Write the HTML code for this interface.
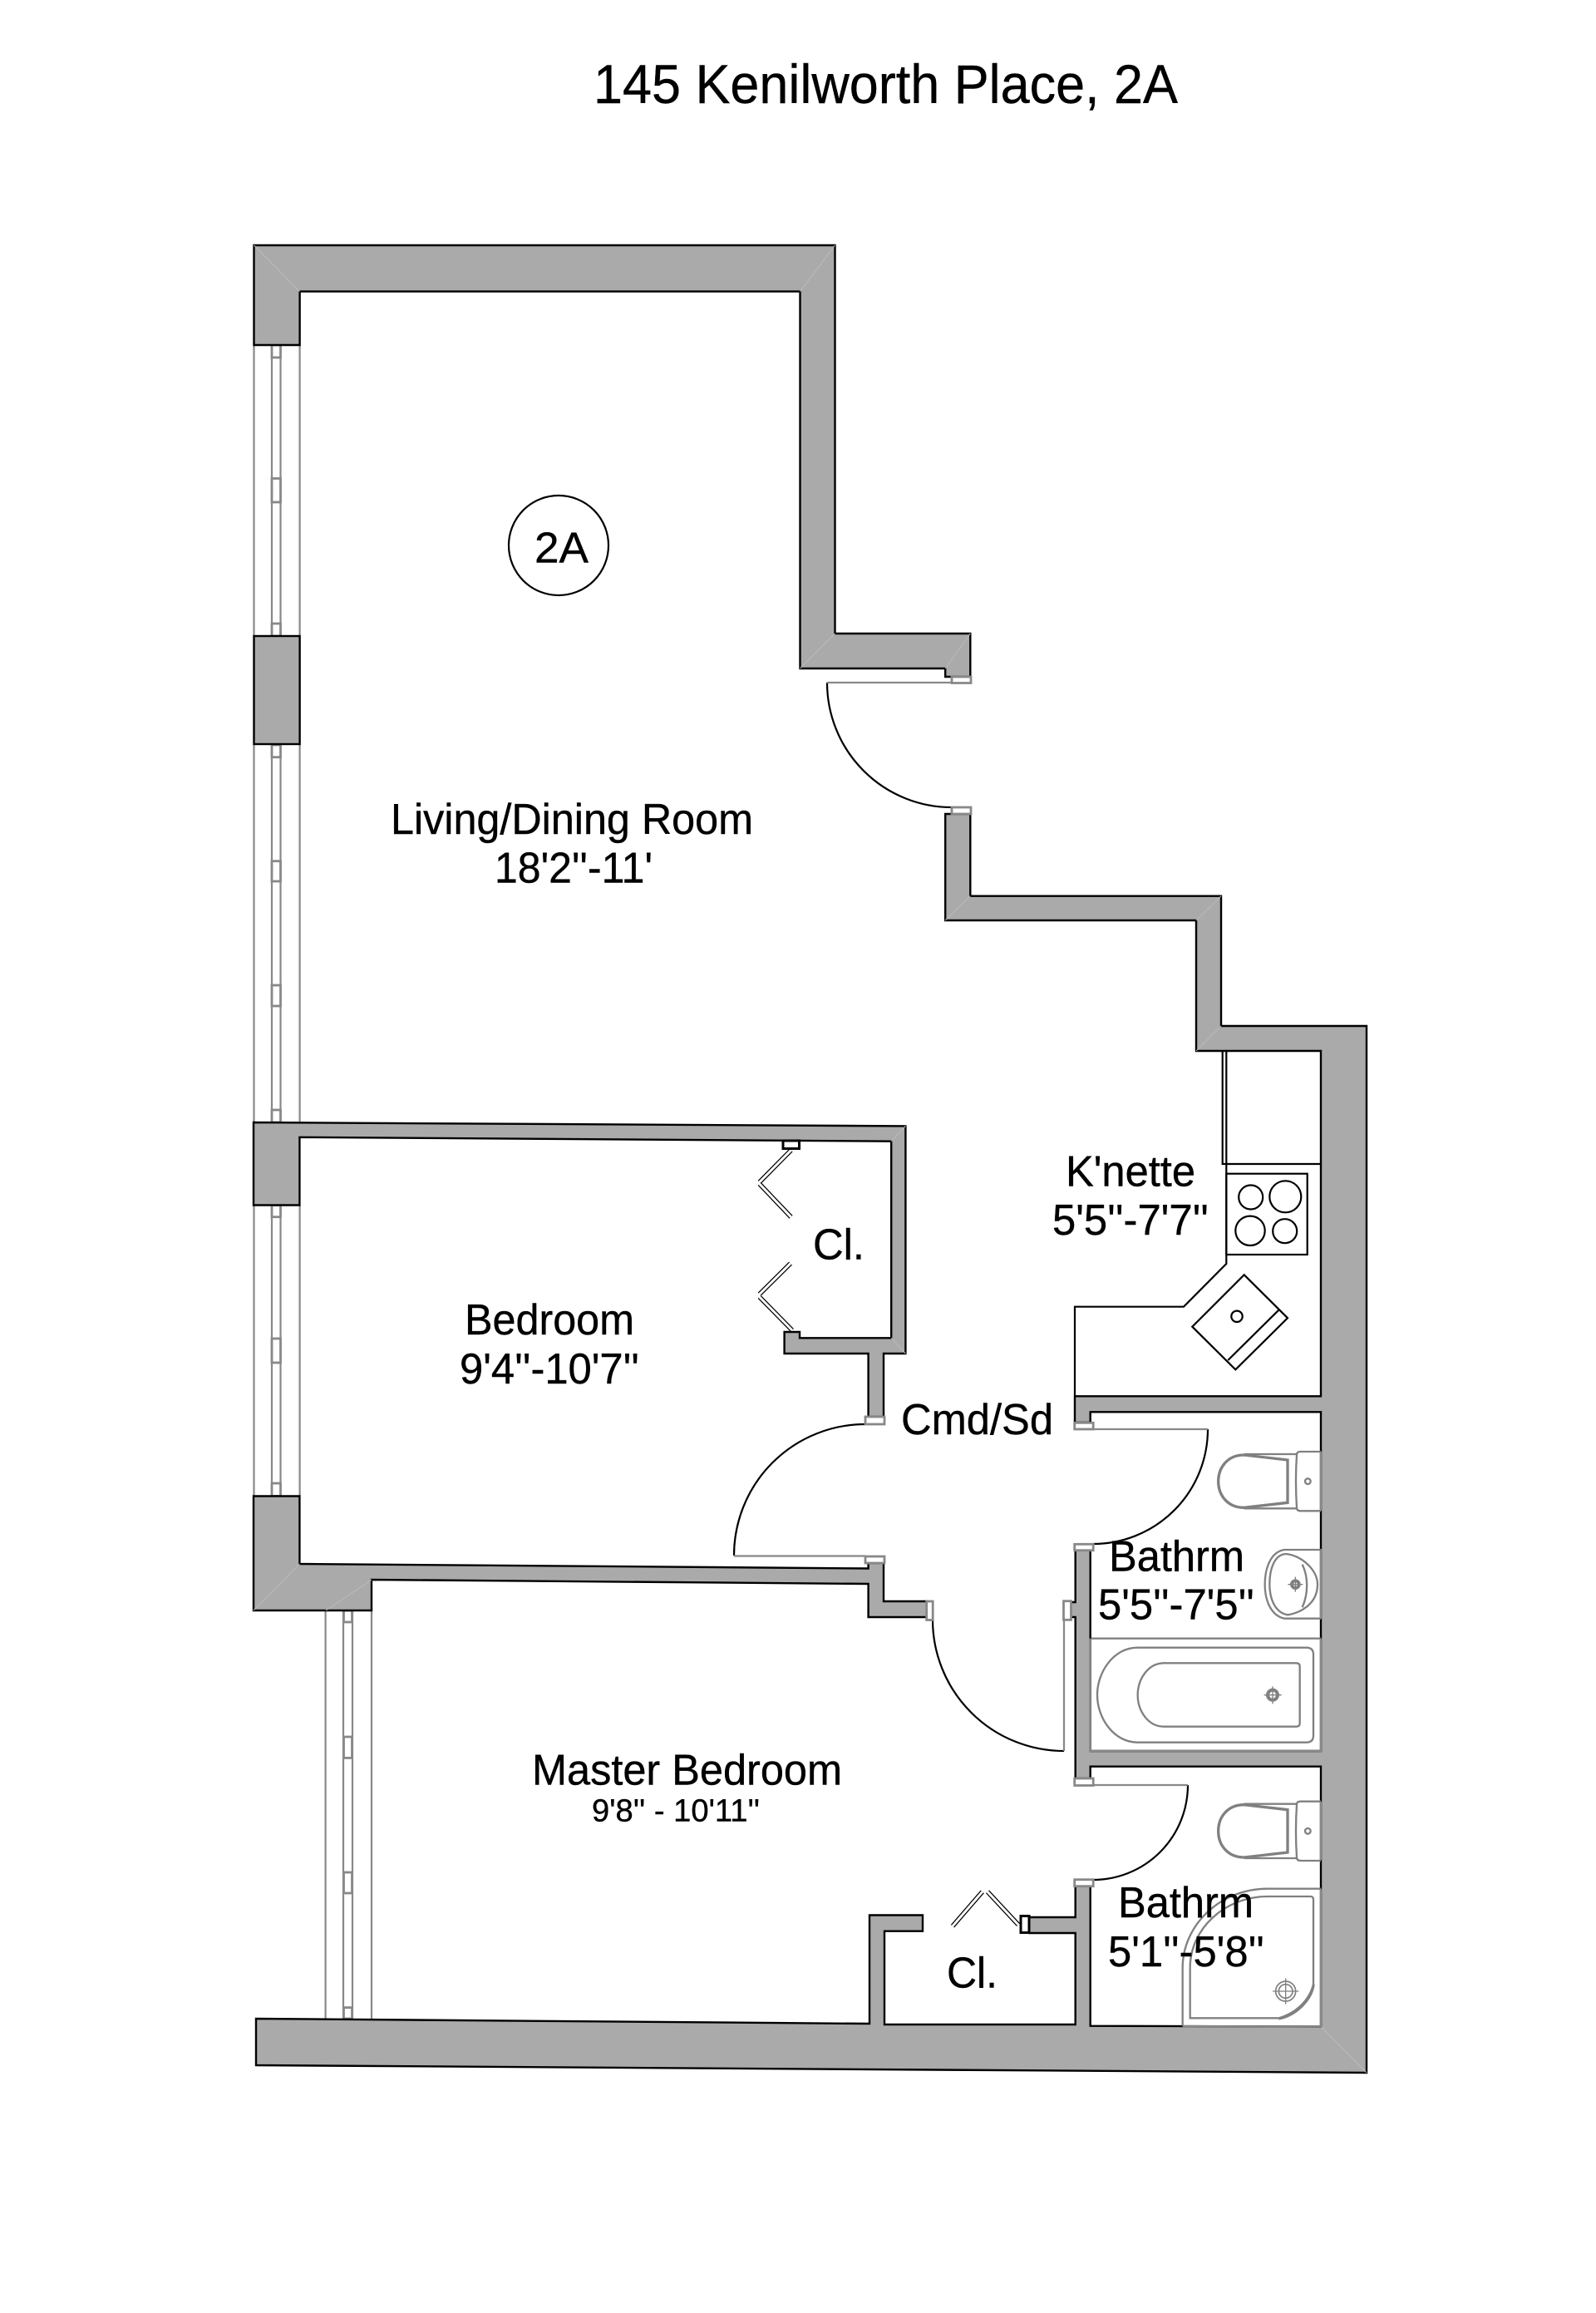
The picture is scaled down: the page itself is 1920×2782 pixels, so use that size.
<!DOCTYPE html>
<html><head><meta charset="utf-8"><style>
html,body{margin:0;padding:0;background:#fff}
svg{display:block}
text{font-family:"Liberation Sans",sans-serif;fill:#000;font-size:51.5px;stroke:#000;stroke-width:.4}
.w{fill:#aaa;stroke:#000;stroke-width:2.4;stroke-linejoin:miter}
.f{fill:#fff;stroke:#888;stroke-width:2.8}
.g{fill:none;stroke:#888;stroke-width:2.2}
.k{fill:none;stroke:#000;stroke-width:2.2}
.m{fill:none;stroke:#bbb;stroke-width:1}
.b1{fill:none;stroke:#000;stroke-width:5.5}
.b2{fill:none;stroke:#fff;stroke-width:3}
</style></head><body>
<svg xmlns="http://www.w3.org/2000/svg" width="1920" height="2782" viewBox="0 0 1920 2782">
<rect width="1920" height="2782" fill="#fff"/>

<!-- windows -->
<g class="g">
<path d="M305.5,415V765M360.6,415V765M327,430V765M337.5,430V765"/>
<path d="M305.5,895V1350M360.6,895V1350M327,895V1350M337.5,895V1350"/>
<path d="M305.5,1449V1800M360.6,1449V1800M327,1449V1800M337.5,1449V1800"/>
<path d="M391.6,1937V2428M447,1937V2430M413,1937V2428M424,1937V2428"/>
</g>
<g class="f">
<rect x="327" y="415" width="10.500" height="15"/><rect x="327" y="575.500" width="10.500" height="28.500"/><rect x="327" y="750" width="10.500" height="15"/>
<rect x="327" y="896" width="10.500" height="14.700"/><rect x="327" y="1035.700" width="10.500" height="24.300"/><rect x="327" y="1185" width="10.500" height="25"/><rect x="327" y="1335" width="10.500" height="15"/>
<rect x="327" y="1449.500" width="10.500" height="14.200"/><rect x="327" y="1610" width="10.500" height="29"/><rect x="327" y="1784" width="10.500" height="15.500"/>
<rect x="413.500" y="1937" width="10" height="14"/><rect x="413.500" y="2089" width="10" height="25.400"/><rect x="413.500" y="2252" width="10" height="25"/><rect x="413.500" y="2414.600" width="10" height="13.400"/>
</g>

<!-- walls -->
<path class="w" d="M305.500,415V295H1004.500V762H1167.300V814H1137.200V804H962.500V350.600H360.600V415Z"/>
<rect class="w" x="305.500" y="765" width="55.100" height="130"/>
<path class="w" d="M1137.200,979H1167.300V1077.700H1469V1234H1644V2493L308,2484V2428L1046,2434V2303.500H1110V2322.700H1064V2435H1293.700V2325H1238.300V2306H1293.700V2268.700H1311.700V2436.700L1589,2437.500V2124.700H1311.700V2139H1293.700V1945H1287.300V1927H1293.700V1864.700H1311.700V2106H1589V1698.300H1311.700V1711H1293V1679.300H1589V1264H1439V1107H1137.200Z"/>
<path class="w" d="M305,1350L1089.400,1354.400V1628H1063V1704H1044.600V1628H943.600V1602H962V1609.300H1072.200V1372.700L360.400,1367.800V1449.500H305Z"/>
<path class="w" d="M305,1799.500H360.400V1881L1044.600,1886.500V1880H1063V1926H1115V1945H1044.600V1905L447,1900V1937H305Z"/>

<!-- miters -->
<path class="m" d="M305.500,295L360.600,350.600M1004.500,295L962.500,350.600M1004.500,762L962.500,804M1167.300,762L1137.200,804M1167.300,1077.700L1137.200,1107M1469,1077.700L1439,1107M1469,1234L1439,1264M1644,2493L1589,2437.500M360.400,1881L305,1937M447,1900L392,1937M1089.400,1354.400L1072.200,1372.700M1089.400,1628L1072.200,1609.300"/>

<!-- gray wall edges -->
<path class="g" d="M1311.700,1970.700V2106H1589V1970.700M1422.700,2437L1589,2437.500V2271.700M1589,1746V1817M1589,1863V1947M1589,2167V2237"/>

<!-- doors -->
<g class="k">
<path d="M995,821A150,150 0 0 0 1145,971"/>
<path d="M1041,1713A158,158 0 0 0 883,1871"/>
<path d="M1453,1719A138,138 0 0 1 1315,1857"/>
<path d="M1122,1948A158,158 0 0 0 1280,2106"/>
<path d="M1429,2147A114,114 0 0 1 1315,2261"/>
</g>
<g class="g">
<path d="M995,821H1145M883,1871.500H1041M1315,1719H1453M1280,1948V2106M1315,2147H1429"/>
</g>
<g class="f">
<rect x="1145" y="814" width="23" height="7.500"/>
<rect x="1145" y="971" width="23" height="8"/>
<rect x="1041" y="1704" width="23" height="9"/>
<rect x="1041" y="1872" width="23" height="8"/>
<rect x="1114.700" y="1926" width="7.500" height="22.500"/>
<rect x="1292.700" y="1711.300" width="22.500" height="7.700"/>
<rect x="1292.700" y="1857.300" width="22.500" height="7.400"/>
<rect x="1279.500" y="1925.700" width="9" height="22.600"/>
<rect x="1292.700" y="2139" width="22.500" height="8.500"/>
<rect x="1292.700" y="2260.700" width="22.500" height="8"/>
</g>

<!-- bifold closets -->
<path class="b1" d="M951.600,1383.400L913.700,1421.800"/><path class="b1" d="M913.700,1424L951.600,1463.800"/>
<path class="b1" d="M951,1519.600L913.700,1556.600"/><path class="b1" d="M913.700,1560L953,1600"/>
<path class="b1" d="M1146,2316.700L1181.800,2275.300"/><path class="b1" d="M1188,2275.300L1225,2315"/>
<path class="b2" d="M951.600,1383.400L913.700,1421.800"/><path class="b2" d="M913.700,1424L951.600,1463.800"/>
<path class="b2" d="M951,1519.600L913.700,1556.600"/><path class="b2" d="M913.700,1560L953,1600"/>
<path class="b2" d="M1146,2316.700L1181.800,2275.300"/><path class="b2" d="M1188,2275.300L1225,2315"/>
<rect x="942" y="1372" width="19.500" height="9.500" fill="#fff" stroke="#000" stroke-width="3"/>
<rect x="1228" y="2304.500" width="10" height="20" fill="#fff" stroke="#000" stroke-width="3"/>

<!-- kitchen -->
<g class="k">
<path d="M1470.700,1264V1400H1589M1475.300,1264V1400V1520L1424,1571.700H1293V1679"/>
<rect x="1475.300" y="1411.700" width="97.400" height="97.300"/>
<circle cx="1504.700" cy="1440" r="14.500"/><circle cx="1546.300" cy="1439.300" r="19"/>
<circle cx="1504" cy="1480.300" r="17.700"/><circle cx="1545.700" cy="1480.700" r="14.500"/>
<path d="M1496.700,1533.300L1549,1585.300L1486.300,1647.300L1434.300,1595.700ZM1538.700,1575.300L1477.300,1636"/>
<circle cx="1488" cy="1583.300" r="6.700"/>
</g>

<!-- bath fixtures (zoom 4 coordinates) -->
<g transform="translate(1200,1730) scale(0.33333)" fill="none" stroke="#808080" stroke-width="7">
<g>
<path d="M1167,48H1092Q1080,48 1080,60Q1074,155 1080,250Q1080,262 1095,262H1167"/>
<path d="M1047,78L890,60C830,60 797,105 797,155C797,205 830,250 890,250L1047,232Z" stroke-width="10"/>
<path d="M890,57H1080M890,253H1080"/>
<circle cx="1120" cy="155" r="10"/>
</g>
<g transform="translate(0,1262)">
<path d="M1167,48H1092Q1080,48 1080,60Q1074,155 1080,250Q1080,262 1095,262H1167"/>
<path d="M1047,78L890,60C830,60 797,105 797,155C797,205 830,250 890,250L1047,232Z" stroke-width="10"/>
<path d="M890,57H1080M890,253H1080"/>
<circle cx="1120" cy="155" r="10"/>
</g>
<path d="M1167,402H1035C985,410 965,470 965,527C965,590 990,640 1035,650H1167"/>
<path d="M1040,417C1000,420 982,470 982,525C982,585 1005,630 1048,637C1090,630 1155,600 1155,527C1155,470 1090,420 1040,417Z"/>
<path d="M1100,455C1122,500 1122,560 1100,610"/>
<circle cx="1075" cy="527" r="13" stroke-width="12"/>
<path d="M1075,500V554M1048,527H1102" stroke-width="4"/>
<path d="M338,722H1167"/>
<path d="M505,755H1115Q1140,755 1140,780V1072Q1140,1097 1115,1097H505C420,1097 360,1010 360,926C360,842 420,755 505,755Z"/>
<path d="M600,811H1078Q1091,811 1091,824V1027Q1091,1040 1078,1040H600C545,1040 506,985 506,926C506,867 545,811 600,811Z"/>
<circle cx="993" cy="926" r="18" stroke-width="12"/>
<path d="M993,895V958M962,926H1025" stroke-width="4"/>
</g>

<!-- shower (zoom 8 coordinates) -->
<g transform="translate(1200,2120) scale(0.33333)" fill="none" stroke="#808080" stroke-width="7">
<path d="M668,950V740C668,590 800,455 975,455H1167"/>
<path d="M695,922H1015C1075,905 1125,860 1140,800V495Q1140,483 1130,483H975C820,483 695,600 695,740Z"/>
<path d="M1015,925C1070,918 1135,860 1142,800"/>
<circle cx="1040" cy="825" r="36" stroke-width="5"/><circle cx="1040" cy="825" r="25" stroke-width="5"/>
<path d="M1040,778V872M993,825H1087" stroke-width="4"/>
</g>

<!-- unit marker -->
<circle cx="672" cy="656" r="60" fill="#fff" stroke="#000" stroke-width="2.2"/>

<!-- labels -->
<text x="714" y="124" style="font-size:66px" textLength="703" lengthAdjust="spacingAndGlyphs">145 Kenilworth Place, 2A</text>
<text x="643" y="676.500" textLength="65" lengthAdjust="spacingAndGlyphs">2A</text>
<text x="470" y="1003" textLength="436" lengthAdjust="spacingAndGlyphs">Living/Dining Room</text>
<text x="595" y="1061.700" textLength="190" lengthAdjust="spacingAndGlyphs">18'2''-11'</text>
<text x="1282" y="1426.700" textLength="156" lengthAdjust="spacingAndGlyphs">K'nette</text>
<text x="1266" y="1485" textLength="188" lengthAdjust="spacingAndGlyphs">5'5''-7'7''</text>
<text x="559" y="1604.800" textLength="204" lengthAdjust="spacingAndGlyphs">Bedroom</text>
<text x="553" y="1663.800" textLength="216" lengthAdjust="spacingAndGlyphs">9'4''-10'7''</text>
<text x="978" y="1514.600" textLength="62" lengthAdjust="spacingAndGlyphs">Cl.</text>
<text x="1084" y="1724.800" textLength="183" lengthAdjust="spacingAndGlyphs">Cmd/Sd</text>
<text x="1334" y="1889.300" textLength="163" lengthAdjust="spacingAndGlyphs">Bathrm</text>
<text x="1321" y="1947.300" textLength="188" lengthAdjust="spacingAndGlyphs">5'5''-7'5''</text>
<text x="640" y="2146.600" textLength="373" lengthAdjust="spacingAndGlyphs">Master Bedroom</text>
<text x="712" y="2190.700" style="font-size:38px" textLength="202" lengthAdjust="spacingAndGlyphs">9'8'' - 10'11''</text>
<text x="1139" y="2390.700" textLength="61" lengthAdjust="spacingAndGlyphs">Cl.</text>
<text x="1345" y="2306" textLength="163" lengthAdjust="spacingAndGlyphs">Bathrm</text>
<text x="1333" y="2365" textLength="188" lengthAdjust="spacingAndGlyphs">5'1''-5'8''</text>
</svg>
</body></html>
